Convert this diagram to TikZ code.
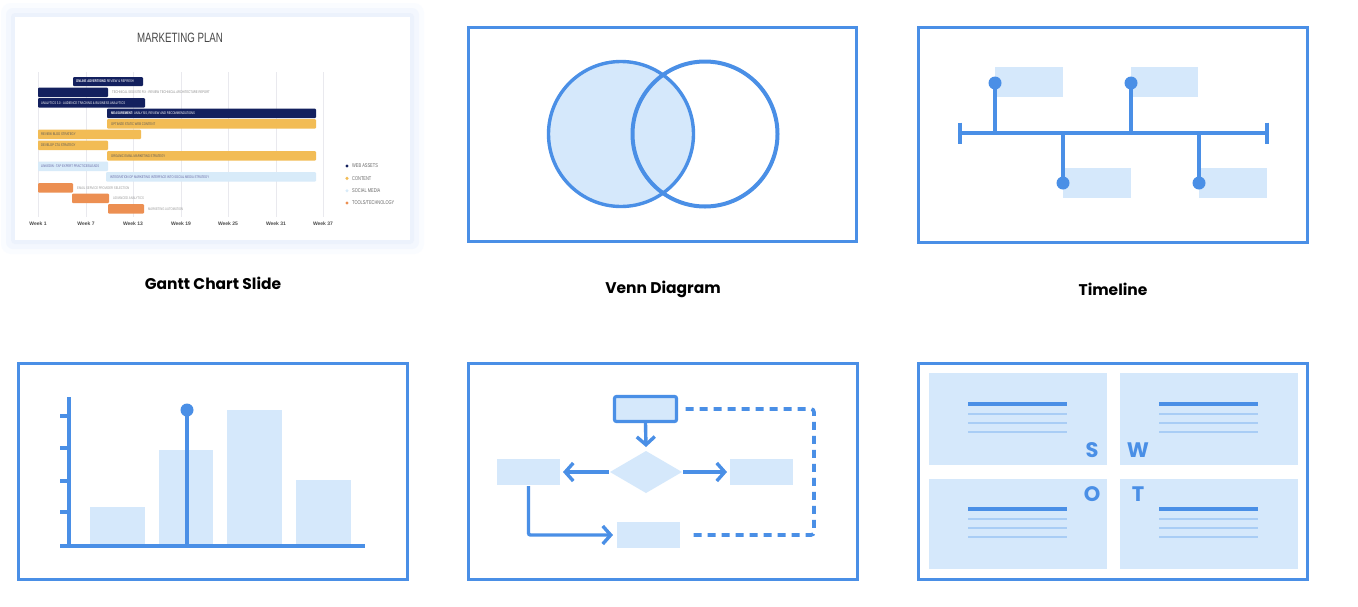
\documentclass[tikz,border=0pt]{standalone}
\usepackage{fontspec}
\setmainfont{Poppins}
\newfontfamily\condfont[FakeStretch=0.72]{Liberation Sans}
\newfontfamily\weekfont{Liberation Sans}
\usetikzlibrary{arrows.meta,shapes.geometric}
\definecolor{fb}{HTML}{4A8FE6}
\definecolor{lb}{HTML}{D5E8FB}
\definecolor{tl}{HTML}{A9CDF5}
\definecolor{navy}{HTML}{13205E}
\definecolor{gold}{HTML}{F2BC55}
\definecolor{orng}{HTML}{EC8F52}
\definecolor{sky}{HTML}{D8EBF9}
\definecolor{gridc}{HTML}{E9E9EE}
\definecolor{glowa}{HTML}{FAFCFF}
\definecolor{glowb}{HTML}{F3F7FE}
\definecolor{glowc}{HTML}{ECF2FC}
\begin{document}
\begin{tikzpicture}[x=1pt,y=-1pt,
  frame/.style={draw=fb, line width=3.3pt},
  caption/.style={font=\fontsize{15.5}{18}\selectfont\bfseries, text=black, inner sep=0},
  lbox/.style={fill=lb, draw=none, inner sep=0, outer sep=0},
  thick blue/.style={draw=fb, line width=3.6pt},
  arr/.style={draw=fb, line width=3.4pt, -{Straight Barb[length=8pt,width=18pt,line width=3.4pt]}},
  dashline/.style={draw=fb, line width=3.6pt, dash pattern=on 8pt off 6pt, rounded corners=3pt},
  gt/.style={font=\condfont\fontsize{3.8}{4}\selectfont, inner sep=0, anchor=west},
  leg/.style={font=\condfont\fontsize{5.5}{6}\selectfont, text=black!60, inner sep=0, anchor=west},
  wk/.style={font=\weekfont\fontsize{5}{6}\selectfont\bfseries, text=black!70, inner sep=0},
  swl/.style={font=\fontsize{21}{21}\selectfont\bfseries, text=fb, inner sep=0},
  thickl/.style={draw=fb, line width=4.5pt},
  thinl/.style={draw=tl, line width=1.8pt}]
\useasboundingbox (0,0) rectangle (1358,606);
\fill[white] (0,0) rectangle (1358,606);

% ---------------- Gantt chart card ----------------
\fill[glowa, rounded corners=10pt] (1,3) rectangle (424,254);
\fill[glowb, rounded corners=7pt] (6,8) rectangle (419,249);
\fill[glowc, rounded corners=4pt] (11,13) rectangle (414,244);
\fill[white] (15,17) rectangle (410,240);
\node[font=\condfont\fontsize{13.5}{14}\selectfont, text=black!72, inner sep=0] (gtitle) at (180,38) {MARKETING PLAN};
\foreach \x/\w in {38/1,86/7,133/13,181/19,228/25,276/31,323/37}{
  \draw[gridc, line width=0.6pt] (\x,72) -- (\x,217);
  \node[wk] (wk\w) at (\x,223.5) {Week \w};
}
% web assets
\fill[navy, rounded corners=1pt] (73,77) rectangle (143,86);
\node[gt, text=white] (g1) at (76,81.5) {\textbf{ONLINE ADVERTISING} REVIEW \& REFRESH};
\fill[navy, rounded corners=1pt] (38,87.5) rectangle (108,97);
\node[gt, text=black!45] (g2) at (112,92.2) {TECHNICAL SEO/SITE FIX - REVIEW TECHNICAL ARCHITECTURE REPORT};
\fill[navy, rounded corners=1pt] (38,98) rectangle (145,107.5);
\node[gt, text=white] (g3) at (41,102.8) {ANALYTICS 3.0 - AUDIENCE TRACKING \& BUSINESS ANALYTICS};
\fill[navy, rounded corners=1pt] (107,108.5) rectangle (316,118);
\node[gt, text=white] (g4) at (111,113.3) {\textbf{MEASUREMENT:} ANALYSIS, REVIEW AND RECOMMENDATIONS};
% content
\fill[gold, rounded corners=1pt] (107,119) rectangle (316,128.5);
\node[gt, text=black!65] (g5) at (111,123.8) {OPTIMIZE STATIC WEB CONTENT};
\fill[gold, rounded corners=1pt] (38,129.5) rectangle (141,139);
\node[gt, text=black!65] (g6) at (41,134.3) {REVIEW BLOG STRATEGY};
\fill[gold, rounded corners=1pt] (38,140.5) rectangle (108,150);
\node[gt, text=black!65] (g7) at (41,145.3) {DEVELOP CTA STRATEGY};
\fill[gold, rounded corners=1pt] (107,151) rectangle (316,160.5);
\node[gt, text=black!65] (g8) at (111,155.8) {ORGANIC EMAIL MARKETING STRATEGY};
% social media
\fill[sky, rounded corners=1pt] (38,161.5) rectangle (108,171);
\node[gt, text=blue!40!black!60] (g9) at (41,166.3) {LINKEDIN - TAP EXPERT PRACTICES/LEADS};
\fill[sky, rounded corners=1pt] (106,172) rectangle (316,181.5);
\node[gt, text=blue!40!black!60] (g10) at (110,176.8) {INTEGRATION OF MARKETING INTERFACE INTO SOCIAL MEDIA STRATEGY};
% tools
\fill[orng, rounded corners=1pt] (38,183) rectangle (73,192.5);
\node[gt, text=black!40] (g11) at (77,187.8) {EMAIL SERVICE PROVIDER SELECTION};
\fill[orng, rounded corners=1pt] (72,193.5) rectangle (109,203);
\node[gt, text=black!40] (g12) at (113,198.3) {ADVANCED ANALYTICS};
\fill[orng, rounded corners=1pt] (108,204) rectangle (144,213.5);
\node[gt, text=black!40] (g13) at (148,208.8) {MARKETING AUTOMATION};
% legend
\fill[navy] (347,166) circle (1.7);
\node[leg] (l1) at (352,166) {WEB ASSETS};
\fill[gold] (347,178.3) circle (1.7);
\node[leg] (l2) at (352,178.3) {CONTENT};
\fill[sky] (347,190.7) circle (1.7);
\node[leg] (l3) at (352,190.7) {SOCIAL MEDIA};
\fill[orng] (347,203) circle (1.7);
\node[leg] (l4) at (352,203) {TOOLS/TECHNOLOGY};

% ---------------- captions ----------------
\node[caption] (c1) at (213,283) {Gantt Chart Slide};
\node[caption] (c2) at (663,289) {Venn Diagram};
\node[caption] (c3) at (1113,289) {Timeline};

% ---------------- Venn ----------------
\draw[frame] (468.5,27.5) rectangle (856.5,241.5);
\fill[lb] (621,134) circle (72.5);
\draw[fb, line width=3.4pt] (621,134) circle (72.5);
\draw[fb, line width=4pt] (705,134) circle (72.5);

% ---------------- Timeline ----------------
\draw[frame] (918.5,27.5) rectangle (1307.5,242.5);
\fill[lb] (995,67) rectangle (1063,97);
\fill[lb] (1131,67) rectangle (1198,97);
\fill[lb] (1063,168) rectangle (1131,198);
\fill[lb] (1199,168) rectangle (1267,198);
\draw[thick blue] (960,133) -- (1267,133);
\draw[thick blue] (960,122.5) -- (960,143.5);
\draw[thick blue] (1267,122.5) -- (1267,143.5);
\draw[thick blue] (995,133) -- (995,83);
\draw[thick blue] (1131,133) -- (1131,83);
\draw[thick blue] (1063,133) -- (1063,183);
\draw[thick blue] (1199,133) -- (1199,183);
\fill[fb] (995,83) circle (6.5);
\fill[fb] (1131,83) circle (6.5);
\fill[fb] (1063,183) circle (6.5);
\fill[fb] (1199,183) circle (6.5);

% ---------------- Bar chart ----------------
\draw[frame] (18.5,363.5) rectangle (407.5,579.5);
\fill[lb] (90,507) rectangle (145,546);
\fill[lb] (159,450) rectangle (213,546);
\fill[lb] (227,410) rectangle (282,546);
\fill[lb] (296,480) rectangle (351,546);
\draw[thick blue] (69,397) -- (69,546);
\foreach \y in {416,448,481,512}{\draw[thick blue] (60,\y) -- (69,\y);}
\draw[thick blue] (60,546) -- (365,546);
\draw[thick blue] (187,546) -- (187,410);
\fill[fb] (187,410) circle (6.5);

% ---------------- Flowchart ----------------
\draw[frame] (468.5,363.5) rectangle (857.5,579.5);
\node[lbox, draw=fb, line width=3.2pt, rounded corners=2pt, minimum width=62pt, minimum height=25pt] (top) at (645.5,409) {};
\node[lbox, diamond, minimum width=72pt, minimum height=42pt, aspect=1.7] (dia) at (646,472) {};
\node[lbox, minimum width=63pt, minimum height=26pt] (lft) at (528.5,472) {};
\node[lbox, minimum width=63pt, minimum height=26pt] (rgt) at (761.5,472) {};
\node[lbox, minimum width=63pt, minimum height=26pt] (bot) at (648.5,535) {};
\coordinate (dtr) at (814,409);
\draw[arr] ([yshift=-1.6pt]top.south) -- ([yshift=4pt]dia.north);
\draw[arr] ([xshift=-1pt]dia.west) -- ([xshift=3pt]lft.east);
\draw[arr] ([xshift=1pt]dia.east) -- ([xshift=-3pt]rgt.west);
\draw[arr, rounded corners=2pt] ([yshift=-1pt]lft.south) |- ([xshift=-4pt]bot.west);
\draw[dashline] ([xshift=9pt]top.east) -- (dtr) |- ([xshift=9pt]bot.east);

% ---------------- SWOT ----------------
\draw[frame] (918.5,363.5) rectangle (1307.5,579.5);
\fill[lb] (929,373) rectangle (1107,465);
\fill[lb] (1120,373) rectangle (1298,465);
\fill[lb] (929,479) rectangle (1107,569);
\fill[lb] (1120,479) rectangle (1298,569);
\foreach \x in {968,1159}{
  \foreach \yy in {0,105}{
    \draw[thickl] (\x,404+\yy) -- (\x+99,404+\yy);
    \draw[thinl] (\x,414+\yy) -- (\x+99,414+\yy);
    \draw[thinl] (\x,423+\yy) -- (\x+99,423+\yy);
    \draw[thinl] (\x,432+\yy) -- (\x+99,432+\yy);
  }
}
\node[swl] (sS) at (1092,450) {S};
\node[swl] (sW) at (1138,450) {W};
\node[swl] (sO) at (1092,494) {O};
\node[swl] (sT) at (1138,494) {T};
\end{tikzpicture}
\end{document}
